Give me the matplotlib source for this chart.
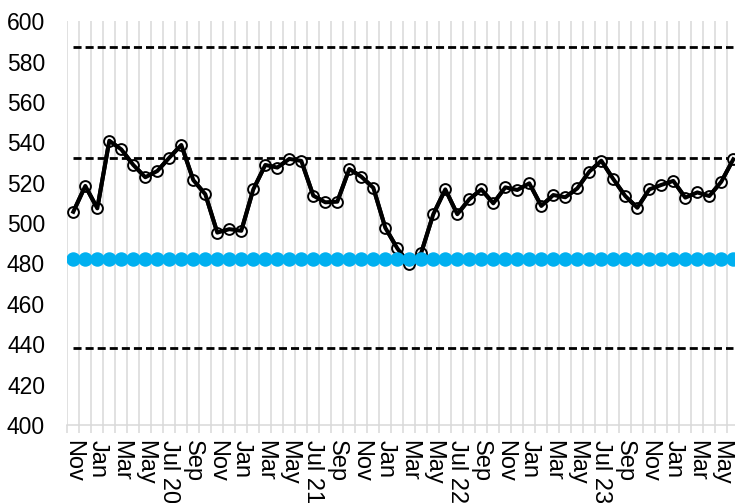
import numpy as np
import matplotlib
matplotlib.use('Agg')
import matplotlib.pyplot as plt

plt.rcParams['font.family'] = ['Liberation Sans', 'DejaVu Sans']

# Monthly values, Nov 2019 - Jun 2024
values = [505.6, 518.4, 507.3, 540.8, 536.5, 528.8, 522.7, 525.8, 532.4, 538.7,
          521.3, 514.3, 495.3, 497.0, 496.2, 516.7, 528.8, 527.5, 531.8, 530.8,
          513.6, 510.3, 510.6, 526.8, 523.0, 517.5, 497.7, 487.5, 479.6, 485.4,
          504.4, 516.7, 504.4, 511.8, 516.7, 509.8, 517.7, 516.4, 519.7, 508.5,
          513.9, 512.8, 517.2, 525.5, 530.9, 521.8, 513.4, 507.6, 516.7, 518.9,
          520.9, 512.6, 515.2, 513.4, 520.5, 531.6]

# every second month is labelled
tick_labels = ['Nov', 'Jan', 'Mar', 'May', 'Jul 20', 'Sep', 'Nov', 'Jan', 'Mar', 'May',
               'Jul 21', 'Sep', 'Nov', 'Jan', 'Mar', 'May', 'Jul 22', 'Sep', 'Nov', 'Jan',
               'Mar', 'May', 'Jul 23', 'Sep', 'Nov', 'Jan', 'Mar', 'May']

target = 482
upper_limit = 587
mid_line = 532
lower_limit = 438

n = len(values)
x = np.arange(n)

fig = plt.figure(figsize=(7.35, 5.03), dpi=100)
ax = fig.add_axes([67.3 / 735, 78 / 503, 672 / 735, 403.8 / 503])

grey = '#d9d9d9'

# reference lines
dash = (0, (2.9, 1.45))
for level in [upper_limit, mid_line, lower_limit]:
    ax.plot(x, [level] * n, color='black', lw=2, linestyle=dash, zorder=2)

# main series
ax.plot(x, values, color='black', lw=2.9, zorder=3)
ax.plot(x, values, linestyle='none', marker='o', ms=7.8, mfc='white',
        mec='black', mew=1.4, zorder=3.5)
ax.plot(x, values, color='black', lw=2.9, zorder=4)

# target as blue dots
ax.plot(x, [target] * n, linestyle='none', marker='o', ms=9.4,
        color='#00b0f0', mec='#00b0f0', zorder=5)

ax.set_xlim(-0.5, n - 0.5)
ax.set_ylim(400, 600)
ax.set_yticks(np.arange(400, 601, 20))

ax.set_xticks(x[::2])
ax.set_xticklabels(tick_labels, rotation=-90, va='top', ha='center')
ax.set_xticks(np.arange(-0.5, n, 1), minor=True)
ax.tick_params(axis='x', which='major', length=0, pad=11, labelsize=17)
ax.tick_params(axis='x', which='minor', length=6, width=1.1, color=grey)
ax.tick_params(axis='y', length=0, pad=16, labelsize=16.5)

ax.grid(axis='x', which='minor', color=grey, lw=1.1, zorder=0)
ax.grid(axis='x', which='major', visible=False)
ax.grid(axis='y', visible=False)

for side in ['top', 'right', 'left']:
    ax.spines[side].set_visible(False)
ax.spines['bottom'].set_color(grey)
ax.spines['bottom'].set_linewidth(1.1)

fig.savefig('out.png', dpi=100)
